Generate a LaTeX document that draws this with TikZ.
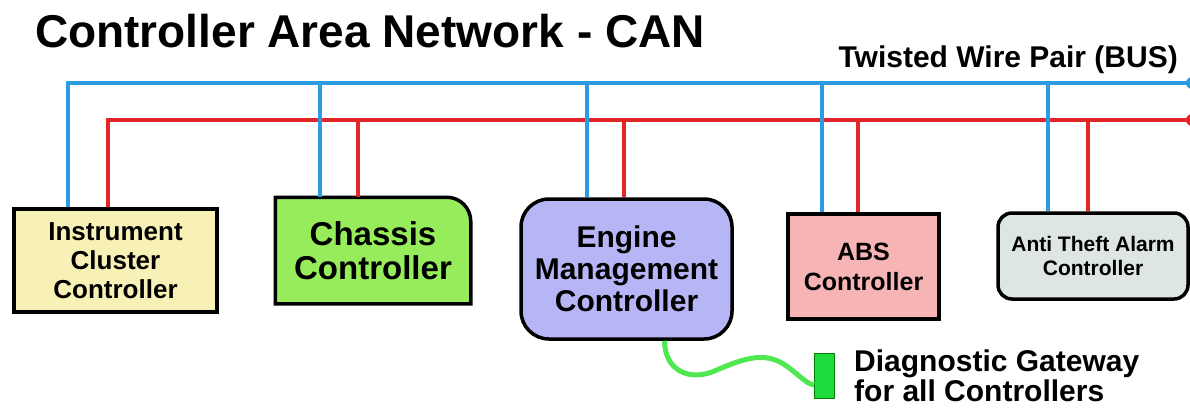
\documentclass[tikz,border=0pt]{standalone}
\usepackage{fontspec}
\setmainfont{Liberation Sans}
\usetikzlibrary{backgrounds}
\definecolor{canblue}{RGB}{44,156,226}
\definecolor{canred}{RGB}{226,38,42}
\definecolor{icfill}{RGB}{247,241,181}
\definecolor{chfill}{RGB}{150,236,90}
\definecolor{emfill}{RGB}{182,182,246}
\definecolor{absfill}{RGB}{246,180,180}
\definecolor{atfill}{RGB}{222,230,226}
\definecolor{cablegreen}{RGB}{80,232,80}
\definecolor{gwfill}{RGB}{30,220,60}
\tikzset{>=latex}
\tikzset{
    bluewire/.style={canblue,line width=4.5pt},
    redwire/.style={canred,line width=4.5pt},
    ecu/.style={draw=black,line width=3.5pt,inner sep=0pt,align=center},
}
% taps of the two wires down to a controller
\newcommand{\ecutaps}[3]{
    \coordinate (#1b) at (#2,83);
    \coordinate (#1r) at (#3,120);
    \draw[bluewire] (#1b) -- (#1b |- #1.north);
    \draw[redwire] (#1r) -- (#1r |- #1.north);
}

\begin{document}
\begin{tikzpicture}[x=1pt,y=-1pt]
    \useasboundingbox (0,0) rectangle (1190,408);
    \node[anchor=base west,inner sep=0pt,font=\bfseries\fontsize{46}{50}\selectfont] (title) at (35,47) {Controller Area Network - CAN};
    \node[anchor=base east,inner sep=0pt,font=\bfseries\fontsize{30}{34}\selectfont] (buslabel) at (1178,67) {Twisted Wire Pair (BUS)};

    \node[ecu,fill=icfill,minimum width=203,minimum height=103,font=\bfseries\fontsize{26}{29}\selectfont] (ic) at (115.5,260.5) {Instrument\\Cluster\\Controller};
    \node[ecu,draw=none,minimum width=192,minimum height=103,font=\bfseries\fontsize{33}{34}\selectfont] (ch) at (373,250.5) {Chassis\\Controller};
    \node[ecu,fill=emfill,rounded corners=28pt,minimum width=211,minimum height=140,font=\bfseries\fontsize{30}{32}\selectfont] (em) at (626.5,269) {Engine\\Management\\Controller};
    \node[ecu,fill=absfill,minimum width=151,minimum height=105,font=\bfseries\fontsize{25}{30}\selectfont] (abs) at (863.5,266.5) {ABS\\Controller};
    \node[ecu,fill=atfill,rounded corners=14pt,minimum width=190,minimum height=86,font=\bfseries\fontsize{21}{24}\selectfont] (at) at (1093,256) {Anti Theft Alarm\\Controller};

    \begin{scope}[on background layer]
        \draw[fill=chfill,line width=3.5pt] (ch.south west) -- (ch.north west) -- ([xshift=-24pt]ch.north east) arc[start angle=90,end angle=0,radius=24pt] -- (ch.south east) -- cycle;
    \end{scope}

    % the bus
    \coordinate (bluestart) at (68,83);
    \coordinate (blueend) at (1192,83);
    \coordinate (redstart) at (108,120);
    \coordinate (redend) at (1192,120);
    \draw[bluewire] (bluestart |- ic.north) -- (bluestart) -- (blueend);
    \draw[redwire] (redstart |- ic.north) -- (redstart) -- (redend);
    \fill[canblue] (blueend) circle (6pt);
    \fill[canred] (redend) circle (6pt);
    \ecutaps{ch}{320}{358}
    \ecutaps{em}{587}{624}
    \ecutaps{abs}{822}{858}
    \ecutaps{at}{1048}{1088}

    % diagnostic plug
    \node[draw=green!50!black,line width=0.8pt,fill=gwfill,minimum width=20,minimum height=45,inner sep=0pt] (gw) at (824.5,376) {};
    \draw[cablegreen,line width=5pt] ([xshift=38pt]em.south) .. controls (665,372) and (690,380) .. (712,372) .. controls (740,360) and (760,352) .. (780,362) .. controls (795,370) and (805,384) .. ([yshift=-9pt]gw.west);
    \node[anchor=north west,inner sep=0pt,align=left,font=\bfseries\fontsize{30}{28}\selectfont] (gwlabel) at (854,350) {Diagnostic Gateway\\for all Controllers};
\end{tikzpicture}
\end{document}
